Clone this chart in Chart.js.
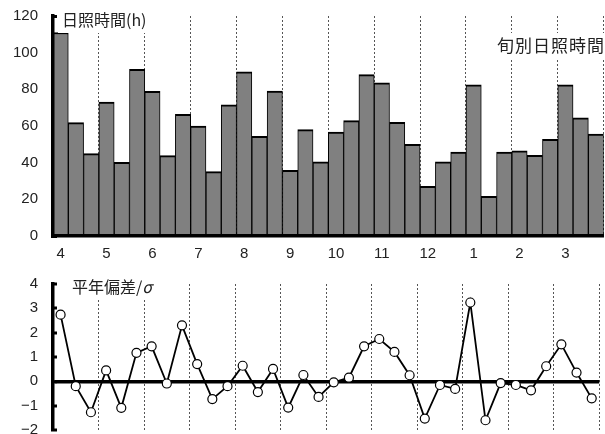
<!DOCTYPE html>
<html>
<head>
<meta charset="utf-8">
<script src="https://cdn.jsdelivr.net/npm/chart.js@4"></script>
<style>
  html, body { margin: 0; padding: 0; background: #fff; overflow: hidden; width: 605px; height: 434px; }
  canvas { position: absolute; left: 0; display: block; }
  #sunshine { top: 0; }
  #anomaly { top: 262px; }
  .lbl { position: absolute; background: #fff; color: #222; font-family: "Noto Sans CJK JP", sans-serif;
         white-space: nowrap; line-height: 1; }
</style>
</head>
<body>
<canvas id="sunshine" width="605" height="262"></canvas>
<canvas id="anomaly" width="605" height="180"></canvas>
<div class="lbl" style="left:58px; top:9px; padding:2px 8px 6px 4px; font-size:16px;">日照時間(h)</div>
<div class="lbl" style="left:493px; top:33px; padding:3px 0 7px 4px; font-size:17px; letter-spacing:1px;">旬別日照時間</div>
<div class="lbl" style="left:68px; top:276px; padding:2px 8px 4px 4px; font-size:16px;">平年偏差/<span style="font-style:italic;">σ</span></div>
<script>
// Months of the fiscal year (April to March), each split into three dekads
const months = ['4', '5', '6', '7', '8', '9', '10', '11', '12', '1', '2', '3'];
const dekads = ['上旬', '中旬', '下旬'];

// Sunshine duration per dekad (hours)
const sunshineHours = [
  111, 61.8, 44.9,   73.1, 40.2, 90.9,   78.9, 43.8, 66.4,
  60.0, 35.1, 71.6,  89.6, 54.4, 79.1,   35.8, 58.0, 40.5,
  56.7, 62.9, 88.0,  83.6, 62.0, 50.0,   27.1, 40.5, 45.8,
  82.5, 21.6, 45.8,  46.4, 44.0, 52.7,   82.5, 64.4, 55.6
];

// Normalized anomaly from the climatological normal (deviation / sigma)
const normalizedAnomaly = [
  2.74, -0.20, -1.27,   0.45, -1.09, 1.17,   1.44, -0.09, 2.30,
  0.71, -0.73, -0.20,   0.64, -0.44, 0.51,  -1.08, 0.26, -0.64,
  -0.04, 0.15, 1.44,    1.74, 1.21, 0.25,   -1.53, -0.15, -0.31,
  3.24, -1.60, -0.07,  -0.15, -0.37, 0.62,   1.52, 0.36, -0.70
];

const sunshineTicks = { min: 0, max: 120, step: 20 };
const anomalyTicks = { min: -2, max: 4, step: 1 };

const dekadLabels = months.flatMap(m => dekads.map(d => m + '月' + d));

const tickFont = { family: '"Liberation Sans", Arial, sans-serif', size: 15 };
const tickColor = '#222';
const clear = 'rgba(0,0,0,0)';

// dashed separators at month boundaries (offset grid lines sit on category edges)
const monthLineColor = c => (c.index === undefined || (c.index > 0 && c.index % 3 === 0)) ? '#555' : clear;

// fixed-width value axis; end labels may overhang the plot area
const fitValueAxis = s => { s.width = 53; s.paddingTop = 0; s.paddingBottom = 0; };

new Chart(document.getElementById('sunshine'), {
  type: 'bar',
  data: {
    labels: dekadLabels,
    datasets: [{
      data: sunshineHours,
      backgroundColor: '#808080',
      borderColor: '#000',
      borderWidth: { top: 2, left: 1, right: 1, bottom: 0 },
      borderSkipped: false,
      barPercentage: 1,
      categoryPercentage: 1
    }]
  },
  options: {
    responsive: false,
    animation: false,
    layout: { padding: { top: 16, right: 0, bottom: 0, left: 0 } },
    plugins: { legend: { display: false }, tooltip: { enabled: false } },
    scales: {
      x: {
        offset: true,
        grid: { offset: true, drawTicks: false, color: monthLineColor, lineWidth: 1 },
        border: { display: true, color: '#000', width: 3.5, dash: [2, 2], z: 1 },
        ticks: {
          autoSkip: false, maxRotation: 0, padding: 9, color: tickColor, font: tickFont,
          callback: (v, i) => i % 3 === 0 ? months[i / 3] : ''
        },
        afterFit: s => { s.height = 26; }
      },
      y: {
        min: sunshineTicks.min, max: sunshineTicks.max,
        grid: {
          drawOnChartArea: false, color: clear,
          drawTicks: true, tickLength: -4, tickWidth: 3, tickColor: '#000'
        },
        border: { display: true, color: '#000', width: 3.5, z: 1 },
        ticks: { stepSize: sunshineTicks.step, padding: 19, color: tickColor, font: tickFont },
        afterFit: fitValueAxis
      }
    }
  }
});

new Chart(document.getElementById('anomaly'), {
  type: 'line',
  data: {
    labels: dekadLabels,
    datasets: [{
      data: normalizedAnomaly,
      borderColor: '#000',
      borderWidth: 1.8,
      tension: 0,
      pointRadius: 4.5,
      pointBackgroundColor: '#fff',
      pointBorderColor: '#000',
      pointBorderWidth: 1.2,
      clip: false
    }]
  },
  options: {
    responsive: false,
    animation: false,
    layout: { padding: { top: 22, right: 0, bottom: 12, left: 0 } },
    plugins: { legend: { display: false }, tooltip: { enabled: false } },
    scales: {
      x: {
        offset: true,
        grid: { offset: true, drawTicks: false, color: monthLineColor, lineWidth: 1 },
        border: { display: false, dash: [2, 2] },
        ticks: { display: false, autoSkip: false },
        afterFit: s => { s.height = 0; }
      },
      y: {
        min: anomalyTicks.min, max: anomalyTicks.max,
        grid: {
          color: c => c.tick && c.tick.value === 0 ? '#000' : clear,
          lineWidth: c => c.tick && c.tick.value === 0 ? 3.5 : 0,
          drawTicks: true, tickLength: -4, tickWidth: 3, tickColor: '#000'
        },
        border: { display: true, color: '#000', width: 3.5, z: 1 },
        ticks: {
          stepSize: anomalyTicks.step, padding: 19, color: tickColor, font: tickFont,
          callback: v => String(v).replace('-', '−')
        },
        afterFit: fitValueAxis
      }
    }
  }
});
</script>
</body>
</html>
